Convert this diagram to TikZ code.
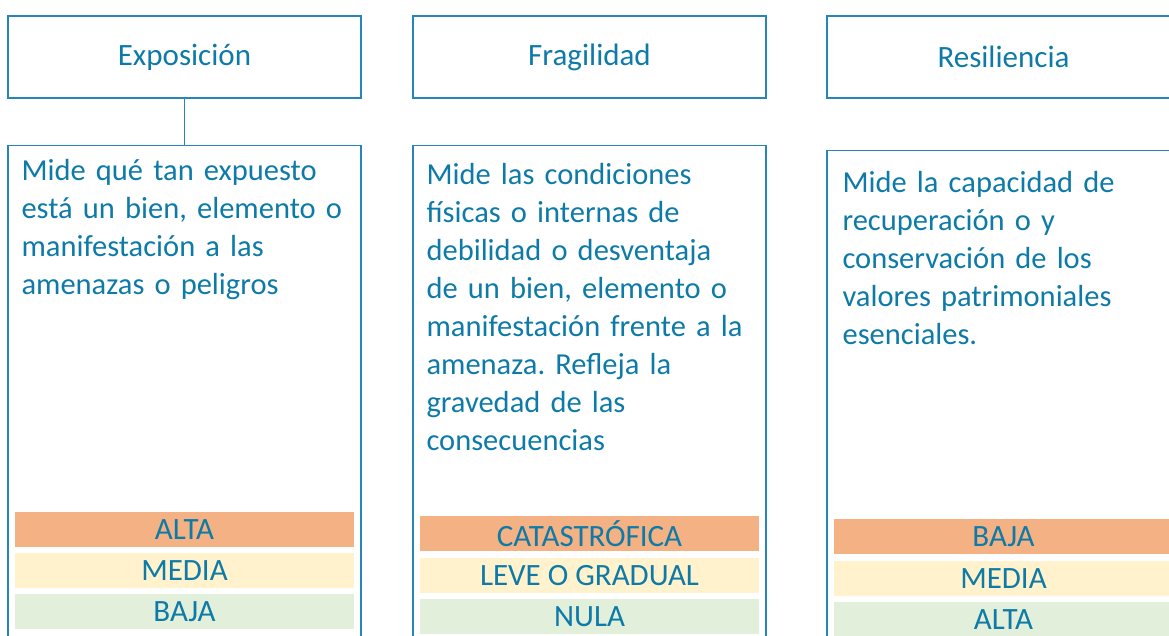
\documentclass[tikz,border=0pt]{standalone}
\usepackage{fontspec}
\setmainfont{Carlito}
\usetikzlibrary{positioning}
\definecolor{lineblue}{RGB}{38,134,186}
\definecolor{textblue}{RGB}{14,122,168}
\definecolor{barorange}{RGB}{244,177,131}
\definecolor{baryellow}{RGB}{255,242,204}
\definecolor{bargreen}{RGB}{226,239,218}
\frenchspacing

\begin{document}
\begin{tikzpicture}[x=1pt,y=-1pt,
   head/.style={draw=lineblue,line width=1.3pt,minimum width=353pt,minimum height=82pt,
      text=textblue,font=\fontsize{31}{36}\selectfont},
   body/.style={draw=lineblue,line width=1.3pt,minimum width=353pt,minimum height=560pt},
   desc/.style={text=textblue,align=left,text width=340pt,inner sep=0pt,anchor=base west,
      font=\fontsize{30.5}{38}\selectfont},
   level/.style={minimum width=339pt,minimum height=35pt,inner sep=0pt,text=textblue,
      font=\fontsize{31}{36}\selectfont},
   high/.style={level,fill=barorange},
   mid/.style={level,fill=baryellow},
   low/.style={level,fill=bargreen},
   link/.style={draw=lineblue,line width=1.3pt}]
   \useasboundingbox (0,0) rectangle (1169,635);
   \clip (0,0) rectangle (1169,635);

   \node[head] (exp) at (184.5,57) {Exposición};
   \node[head] (fra) [right=50.7pt of exp] {Fragilidad};
   \node[head] (res) [right=59.7pt of fra] {Resiliencia};

   \node[body] (expBody) [below=46.4pt of exp] {};
   \node[body] (fraBody) [below=46.4pt of fra] {};
   \node[body] (resBody) [below=51.4pt of res] {};
   \draw[link] (exp) -- (expBody);

   \node[desc] (expTxt) at ([shift={(14,35)}]expBody.north west)
      {Mide qué tan expuesto\\está un bien, elemento o\\manifestación a las\\amenazas o peligros};
   \node[desc] (fraTxt) at ([shift={(14,39)}]fraBody.north west)
      {Mide las condiciones\\físicas o internas de\\debilidad o desventaja\\de un bien, elemento o\\manifestación frente a la\\amenaza. Refleja la\\gravedad de las\\consecuencias};
   \node[desc] (resTxt) at ([shift={(16,42)}]resBody.north west)
      {Mide la capacidad de\\recuperación o y\\conservación de los\\valores patrimoniales\\esenciales.};

   % escalas
   \node[high] (expA) [below=367pt of expBody.north] {ALTA};
   \node[mid]  (expB) [below=5.5pt of expA] {MEDIA};
   \node[low]  (expC) [below=5.5pt of expB] {BAJA};

   \node[high] (fraA) [below=371pt of fraBody.north] {CATASTRÓFICA};
   \node[mid]  (fraB) [below=6pt of fraA] {LEVE O GRADUAL};
   \node[low]  (fraC) [below=6pt of fraB] {NULA};

   \node[high] (resA) [below=369pt of resBody.north] {BAJA};
   \node[mid]  (resB) [below=6pt of resA] {MEDIA};
   \node[low]  (resC) [below=6pt of resB] {ALTA};
\end{tikzpicture}
\end{document}
